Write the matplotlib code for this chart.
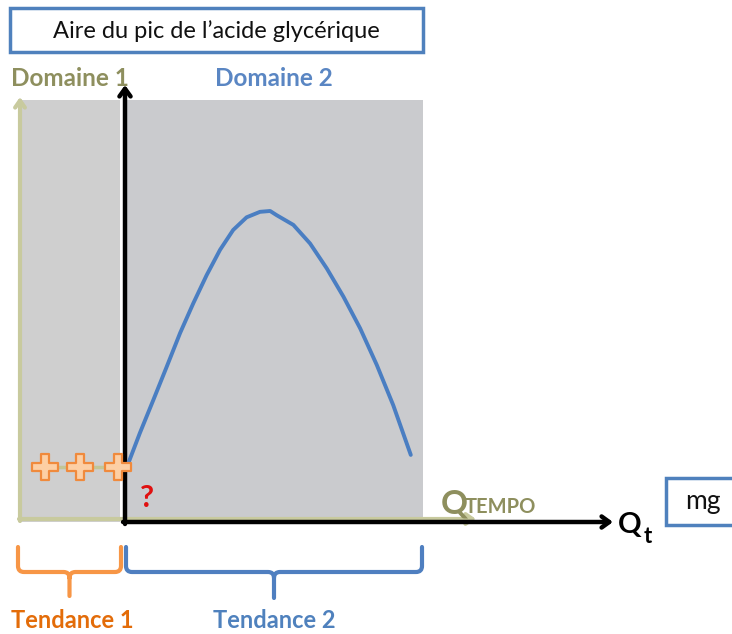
import matplotlib
matplotlib.use("Agg")
import matplotlib.pyplot as plt
from matplotlib.patches import Rectangle, PathPatch
from matplotlib.path import Path

# ---- data (arbitrary units, main axes 0..10 x 0..10) ----
curve_x = [0.11, 0.50, 0.95, 1.40, 1.85, 2.29, 2.74, 3.19, 3.63, 4.08, 4.53, 4.87,
           5.09, 5.65, 6.21, 6.77, 7.33, 7.89, 8.45, 9.00, 9.59]
curve_y = [1.39, 2.11, 2.89, 3.68, 4.48, 5.18, 5.85, 6.45, 6.92, 7.22, 7.35, 7.37,
           7.27, 7.04, 6.60, 6.01, 5.34, 4.59, 3.72, 2.77, 1.59]
plus_x = [-2.68, -1.51, -0.23]
plus_y = [1.30, 1.30, 1.30]

title_text = "Aire du pic de l\u2019acide glycérique"
dom_labels = ["Domaine 1", "Domaine 2"]
tend_labels = ["Tendance 1", "Tendance 2"]

W, H = 732, 634
fig = plt.figure(figsize=(W / 100, H / 100), dpi=100)
bg = fig.add_axes([0, 0, 1, 1])
bg.set_xlim(0, W)
bg.set_ylim(H, 0)
bg.axis('off')

FONT = 'Lato'
olive_txt = '#8E8F5E'
khaki = '#C8CA9E'
blue = '#4F81BD'
orange = '#F79646'
orange_txt = '#E36C09'

# gray backgrounds
bg.add_patch(Rectangle((18, 100), 102, 422, facecolor='#CFCFCF', edgecolor='none', zorder=1))
bg.add_patch(Rectangle((124, 100), 299, 422, facecolor='#CACBCE', edgecolor='none', zorder=1))

# title box
bg.add_patch(Rectangle((10, 8), 413, 44, facecolor='white', edgecolor=blue, lw=2.5, zorder=2))
bg.text(216, 31, title_text, ha='center', va='center', fontsize=17, family=FONT, color='#111111', zorder=3)

# domain labels
bg.text(70, 79, dom_labels[0], ha='center', va='center', fontsize=17.5, weight='bold', family=FONT, color=olive_txt)
bg.text(274, 79, dom_labels[1], ha='center', va='center', fontsize=17.5, weight='bold', family=FONT, color='#5A86C3')

# domain 1 axes (khaki)
ap_k = dict(arrowstyle='->,head_length=0.5,head_width=0.35', lw=3, color=khaki, shrinkA=0, shrinkB=0)
bg.annotate('', xy=(20, 97), xytext=(20, 521), arrowprops=ap_k, zorder=3)
bg.annotate('', xy=(476, 519), xytext=(19, 519), arrowprops=ap_k, zorder=3)

# main axes (black)
ap_b = dict(arrowstyle='->,head_length=0.55,head_width=0.4', lw=3.2, color='black', shrinkA=0, shrinkB=0)
bg.annotate('', xy=(125, 85), xytext=(125, 524), arrowprops=ap_b, zorder=4)
bg.annotate('', xy=(613, 522), xytext=(123, 522), arrowprops=ap_b, zorder=4)

# Q_TEMPO
bg.text(441, 513, 'Q', ha='left', va='baseline', fontsize=24, weight='bold', family=FONT, color=olive_txt, zorder=5)
bg.text(465, 513, 'TEMPO', ha='left', va='baseline', fontsize=14.5, weight='bold', family=FONT, color=olive_txt, zorder=5)
# Q_t
bg.text(618, 533, 'Q', ha='left', va='baseline', fontsize=21, weight='bold', family=FONT, color='black')
bg.text(644, 543, 't', ha='left', va='baseline', fontsize=16, weight='bold', family=FONT, color='black')
# mg box
bg.add_patch(Rectangle((666, 478), 70, 47, facecolor='white', edgecolor=blue, lw=2.5, zorder=2, clip_on=False))
bg.text(703, 502, 'mg', ha='center', va='center', fontsize=19, family=FONT, color='#111111', zorder=3)

# question mark
bg.text(147, 498, '?', ha='center', va='center', fontsize=22, weight='bold', family=FONT, color='#E01010', zorder=5)

# braces
def brace(x0, x1, ytop, ymid, ytip, color):
    xc = (x0 + x1) / 2
    r = 6
    verts = [(x0, ytop), (x0, ymid - r), (x0, ymid), (x0 + r, ymid), (xc - r, ymid),
             (xc, ymid), (xc, ymid + r), (xc, ytip),
             (xc, ymid + r), (xc, ymid), (xc + r, ymid), (x1 - r, ymid),
             (x1, ymid), (x1, ymid - r), (x1, ytop)]
    codes = [Path.MOVETO, Path.LINETO, Path.CURVE3, Path.CURVE3, Path.LINETO,
             Path.CURVE3, Path.CURVE3, Path.LINETO,
             Path.MOVETO, Path.CURVE3, Path.CURVE3, Path.LINETO,
             Path.CURVE3, Path.CURVE3, Path.LINETO]
    bg.add_patch(PathPatch(Path(verts, codes), facecolor='none', edgecolor=color, lw=3, capstyle='round', joinstyle='round'))

brace(18, 121, 547, 572, 596, orange)
brace(126, 422, 547, 572, 598, '#4F7FC0')

bg.text(72, 621, tend_labels[0], ha='center', va='center', fontsize=17, weight='bold', family=FONT, color=orange_txt)
bg.text(274, 621, tend_labels[1], ha='center', va='center', fontsize=17, weight='bold', family=FONT, color='#4F81BD')

# main data axes
left, right, top, bottom = 125, 423, 100, 522
ax = fig.add_axes([left / W, 1 - bottom / H, (right - left) / W, (bottom - top) / H])
ax.set_xlim(0, 10)
ax.set_ylim(0, 10)
ax.axis('off')
ax.patch.set_alpha(0)
ax.set_zorder(5)

ax.plot(curve_x, curve_y, color='#4A7EC2', lw=2.8, solid_capstyle='round', solid_joinstyle='round')

# thick plus marker
a = 0.3
plus_verts = [(-a, -1), (a, -1), (a, -a), (1, -a), (1, a), (a, a), (a, 1), (-a, 1),
              (-a, a), (-1, a), (-1, -a), (-a, -a), (-a, -1)]
plus_marker = Path(plus_verts, [Path.MOVETO] + [Path.LINETO] * 11 + [Path.CLOSEPOLY])

ax.plot(plus_x, plus_y, color='#C2C696', lw=2.5, clip_on=False, zorder=2)
ax.plot(plus_x, plus_y, linestyle='none', marker=plus_marker, markersize=19, markerfacecolor='#FDCFA4',
        markeredgecolor='#F08A3C', markeredgewidth=1.6, clip_on=False, zorder=3)

fig.savefig('out.png', dpi=100)
